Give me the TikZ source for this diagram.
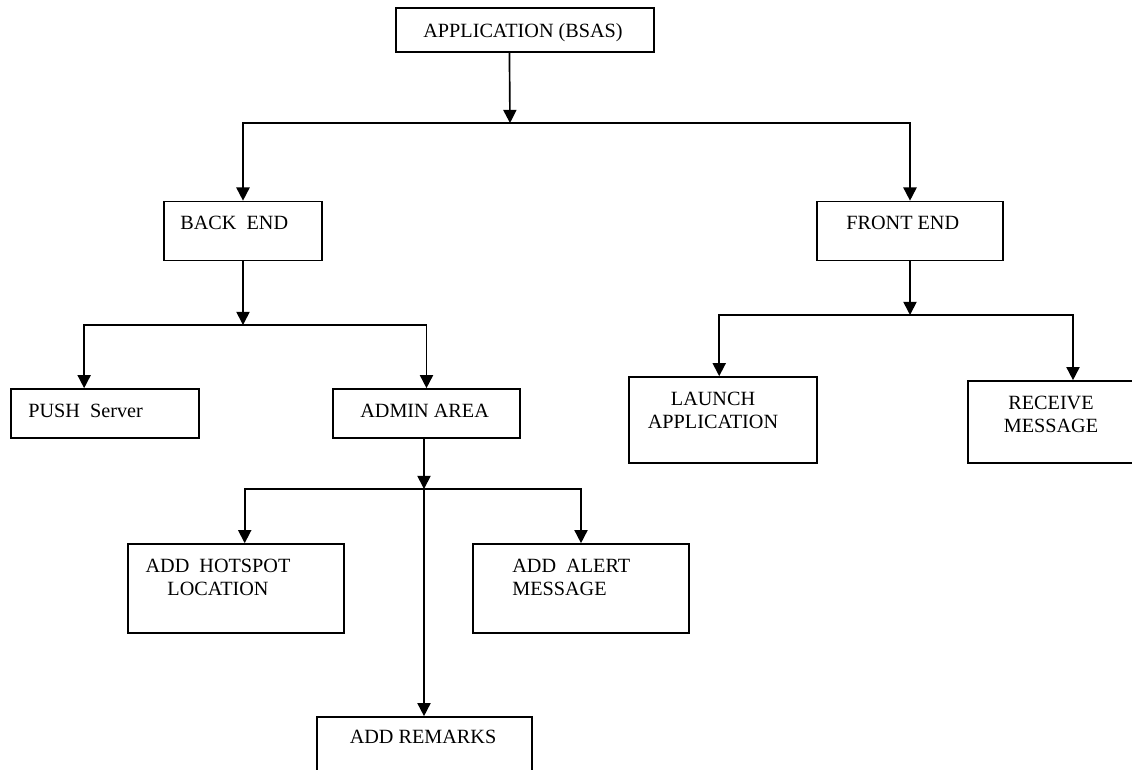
\documentclass[tikz,border=0pt]{standalone}
\usepackage{fontspec}
\setmainfont{Liberation Serif}
\usetikzlibrary{arrows.meta,calc}

\begin{document}
\begin{tikzpicture}[x=0.02cm,y=-0.02cm,
        caja/.style 2 args={draw,line width=0.95pt,minimum width=#1*0.02cm,minimum height=#2*0.02cm,inner sep=0pt},
        txt/.style={inner sep=0pt,font=\fontsize{11.5}{13}\selectfont},
        flecha/.style={line width=0.95pt,-{Triangle[width=7.5pt,length=7.5pt]}}]
        % marco
        \useasboundingbox (0,0) rectangle (1132,769);

        % cajas
        \foreach \n/\x/\y/\w/\h in {app/525/30/258/44, be/243/231/158/59, fe/910/231/186/59,
            push/105/413.5/188/49, admin/426.5/413.5/187/49,
            launch/723/420/188/86, recv/1073/422/210/82,
            hot/236/588.5/216/89, alert/581/588.5/216/89, rem/424.5/761.5/215/89}
        \node[caja={\w}{\h}] (\n) at (\x,\y) {};

        % textos
        \node[txt,anchor=base] (t-app) at (523,37) {APPLICATION (BSAS)};
        \node[txt,anchor=base west] (t-be) at (180,229) {BACK\ \ END};
        \node[txt,anchor=base west] (t-fe) at (846,229) {FRONT END};
        \node[txt,anchor=base west] (t-push) at (28,417) {PUSH\ \ Server};
        \node[txt,anchor=base west] (t-admin) at (360,417) {ADMIN AREA};
        \node[txt,anchor=north,align=center] (t-launch) at (713,392) {LAUNCH\\APPLICATION};
        \node[txt,anchor=north,align=center] (t-recv) at (1051,396) {RECEIVE\\MESSAGE};
        \node[txt,anchor=north,align=center] (t-hot) at (218,559) {ADD\ \ HOTSPOT\\LOCATION};
        \node[txt,anchor=north west,align=left] (t-alert) at (512,559) {ADD\ \ ALERT\\MESSAGE};
        \node[txt,anchor=base] (t-rem) at (423,743) {ADD REMARKS};

        % uniones
        \coordinate (j1) at (510,123);
        \coordinate (j2) at (243,325);
        \coordinate (j3) at (424,489);
        \coordinate (j4) at (910,315);

        \draw[flecha] ($(app.south west)!0.44!(app.south east)$) -- (j1);
        \draw[flecha] (j1) -| (be);
        \draw[flecha] (j1) -| (fe);

        \draw[flecha] (be) -- (j2);
        \draw[flecha] (j2) -| ($(push.north west)!0.39!(push.north east)$);
        \draw[flecha] (j2) -| (admin);

        \draw[flecha] (admin.south -| j3) -- (j3);
        \draw[flecha] (j3) -| ($(hot.north west)!0.54!(hot.north east)$);
        \draw[flecha] (j3) -| (alert);
        \draw[flecha] (j3) -- (j3 |- rem.north);

        \draw[flecha] (fe) -- (j4);
        \draw[flecha] (j4) -| ($(launch.north west)!0.48!(launch.north east)$);
        \draw[flecha] (j4) -| (recv);
    \end{tikzpicture}
\end{document}
